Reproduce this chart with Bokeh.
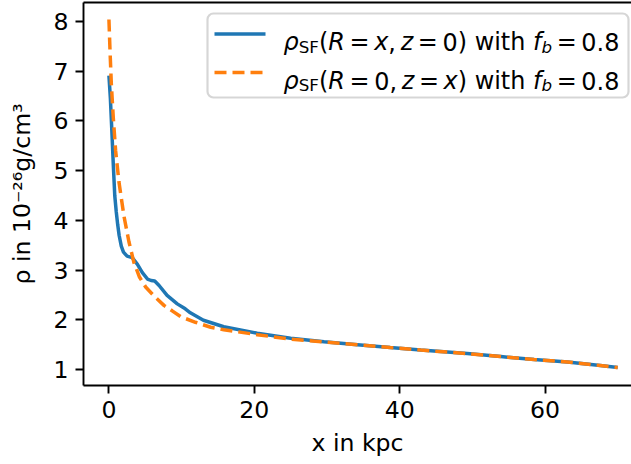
from bokeh.plotting import figure
from bokeh.models import Range1d, FixedTicker, LinearAxis, Label, BoxAnnotation, Arrow
from bokeh.embed import file_html
from bokeh.resources import INLINE

# ---- data ----
blue_x = [0, 0.2, 0.4, 0.6, 0.8, 1.0, 1.2, 1.4, 1.7, 2.0, 2.5, 3.2, 3.9, 4.6, 5.3, 5.8,
          6.3, 6.9, 8.0, 9.4, 10.5, 11.2, 13.0, 15.8, 20.4, 25.0, 29.6, 34.2, 38.7,
          42.9, 49.3, 53.9, 58.5, 63.1, 67.6, 70.0]
blue_y = [6.91, 6.45, 5.80, 5.12, 4.50, 4.18, 3.92, 3.70, 3.48, 3.36, 3.28, 3.25, 3.12,
          2.95, 2.82, 2.79, 2.78, 2.69, 2.49, 2.32, 2.22, 2.14, 1.99, 1.86, 1.73, 1.63,
          1.56, 1.50, 1.44, 1.39, 1.32, 1.26, 1.20, 1.15, 1.08, 1.04]
orange_x = [0, 0.15, 0.33, 0.6, 0.92, 1.38, 2.06, 2.75, 3.44, 4.2, 5.05, 6.2, 7.57, 8.7,
            9.9, 11.9, 14.0, 15.8, 20.4, 25.0, 29.6, 34.2, 38.7, 42.9, 49.3, 53.9, 58.5,
            63.1, 67.6, 70.0]
orange_y = [8.04, 7.41, 6.74, 6.06, 5.40, 4.77, 4.09, 3.57, 3.15, 2.86, 2.66, 2.48, 2.29,
            2.18, 2.06, 1.95, 1.85, 1.80, 1.70, 1.61, 1.555, 1.50, 1.44, 1.39, 1.32, 1.26,
            1.20, 1.15, 1.08, 1.04]
x_ticks = [0, 20, 40, 60]
y_ticks = [1, 2, 3, 4, 5, 6, 7, 8]
x_label = "x in kpc"
y_label = "ρ in 10⁻²⁶g/cm³"

# legend texts: (text, italic, subscript, pad_before_em, pad_after_em)
legend_row1 = [("ρ", 1, 0, 0, 0), ("SF", 0, 1, 0, 0), ("(", 0, 0, 0, 0), ("R", 1, 0, 0, 0),
               ("=", 0, 0, .195, .195), ("x", 1, 0, 0, 0), (",", 0, 0, 0, .195),
               ("z", 1, 0, 0, 0), ("=", 0, 0, .195, .195), ("0", 0, 0, 0, 0),
               (")", 0, 0, 0, 0), ("with", 0, 0, .318, .318), ("f", 1, 0, 0, 0),
               ("b", 1, 1, 0, 0), ("=", 0, 0, .195, .195), ("0.8", 0, 0, 0, 0)]
legend_row2 = [("ρ", 1, 0, 0, 0), ("SF", 0, 1, 0, 0), ("(", 0, 0, 0, 0), ("R", 1, 0, 0, 0),
               ("=", 0, 0, .195, .195), ("0", 0, 0, 0, 0), (",", 0, 0, 0, .195),
               ("z", 1, 0, 0, 0), ("=", 0, 0, .195, .195), ("x", 1, 0, 0, 0),
               (")", 0, 0, 0, 0), ("with", 0, 0, .318, .318), ("f", 1, 0, 0, 0),
               ("b", 1, 1, 0, 0), ("=", 0, 0, .195, .195), ("0.8", 0, 0, 0, 0)]

BLUE = "#1f77b4"
ORANGE = "#ff7f0e"
FONT = "DejaVu Sans"
FS = 23.6
FSS = f"{FS}px"
LFS = 23.9

W, H = 631, 464
BL, BB, BT = 83, 79, 2

p = figure(width=W, height=H, output_backend="svg", toolbar_location=None,
           x_range=Range1d(-3.5, 71.9), y_range=Range1d(0.678, 8.382),
           min_border_left=BL, min_border_right=0, min_border_top=BT,
           min_border_bottom=BB)
p.grid.visible = False
p.outline_line_color = None
p.background_fill_color = "white"
p.border_fill_color = "white"

p.line(blue_x, blue_y, line_color=BLUE, line_width=3.5)
p.line(orange_x, orange_y, line_color=ORANGE, line_width=3.5, line_dash="12 6")

for ax in (p.xaxis[0], p.yaxis[0]):
    ax.axis_line_width = 1.9
    ax.axis_line_color = "black"
    ax.major_tick_line_width = 1.9
    ax.major_tick_line_color = "black"
    ax.major_tick_out = 8
    ax.major_tick_in = 0
    ax.minor_tick_out = 0
    ax.minor_tick_in = 0
    ax.major_label_text_font = FONT
    ax.major_label_text_font_size = FSS
    ax.major_label_text_color = "black"
    ax.major_label_standoff = 7
    ax.axis_label_text_font = FONT
    ax.axis_label_text_font_size = FSS
    ax.axis_label_text_font_style = "normal"
    ax.axis_label_text_color = "black"
    ax.axis_label_standoff = 8

p.yaxis[0].axis_label_standoff = 14
p.xaxis[0].ticker = FixedTicker(ticks=x_ticks)
p.yaxis[0].ticker = FixedTicker(ticks=y_ticks)
p.xaxis[0].axis_label = x_label
p.yaxis[0].axis_label = y_label

top = LinearAxis(ticker=FixedTicker(ticks=[]), axis_line_width=1.9, axis_line_color="black",
                 major_tick_out=0, major_tick_in=0, minor_tick_out=0, minor_tick_in=0,
                 major_label_standoff=0)
p.add_layout(top, "above")

# ---- legend (screen units, frame-relative, y from frame bottom) ----
box_left, box_right = 207 - BL, 628 - BL
box_top, box_bottom = H - BB - 13, H - BB - 97
p.add_layout(BoxAnnotation(left=box_left, right=box_right, top=box_top, bottom=box_bottom,
                           left_units="screen", right_units="screen",
                           top_units="screen", bottom_units="screen",
                           fill_color="white", fill_alpha=0.8,
                           line_color="#cccccc", line_alpha=0.8, line_width=2.2,
                           border_radius=6))

EM = {"ρ": .636, "S": .635, "F": .575, "(": .390, ")": .390, "R": .695, "=": .838,
      "x": .592, ",": .318, "z": .525, "0": .636, "8": .636, ".": .318, "w": .818,
      "i": .278, "t": .392, "h": .634, "f": .352, "b": .635}

rows = [(legend_row1, 33.5, 41.5, BLUE, "solid"), (legend_row2, 72, 80, ORANGE, "12 6")]
for pieces, line_y, base_y, col, dash in rows:
    sy_line = H - BB - line_y
    p.add_layout(Arrow(end=None, x_start=214 - BL, y_start=sy_line, x_end=265 - BL,
                       y_end=sy_line, start_units="screen", end_units="screen",
                       line_color=col, line_width=3.5, line_dash=dash))
    x = 283 - BL
    sy = H - BB - base_y
    for text, ital, sub, pb, pa in pieces:
        scale = 0.7 if sub else 1.0
        x += pb * LFS
        p.add_layout(Label(x=x, y=sy - (4.5 if sub else 0), x_units="screen",
                           y_units="screen", text=text, text_font=FONT,
                           text_font_size=f"{LFS * scale:.1f}px",
                           text_font_style="italic" if ital else "normal",
                           text_color="black", text_baseline="alphabetic",
                           text_align="left"))
        x += sum(EM.get(c, 0.6) for c in text) * LFS * scale
        x += pa * LFS

open("out.html", "w").write(file_html(p, INLINE))
